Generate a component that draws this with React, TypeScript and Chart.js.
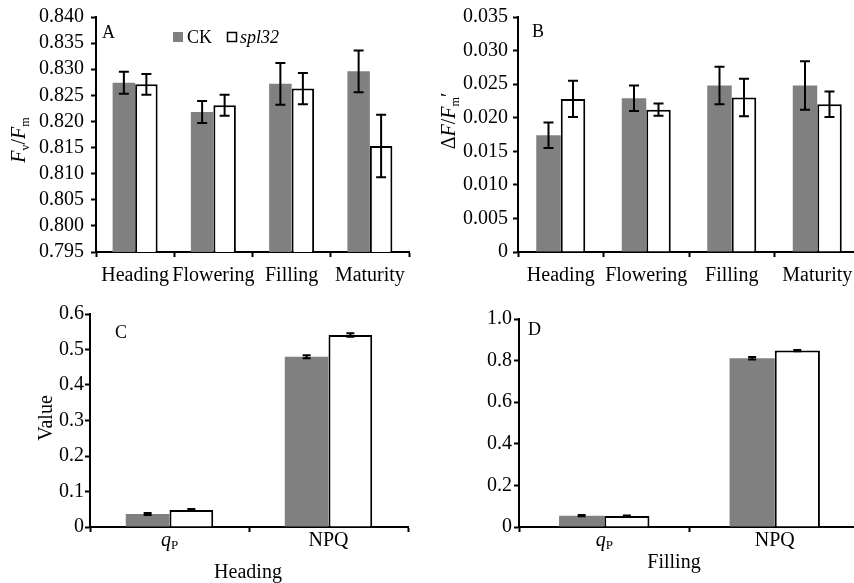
import React, { useEffect, useRef } from 'react';
import { Chart, registerables } from 'chart.js';

Chart.register(...registerables);

// ---------- data ----------
const SERIES = ['CK', 'spl32'];
const STAGES = ['Heading', 'Flowering', 'Filling', 'Maturity'];

const FVFM_CK = [0.8274, 0.8218, 0.8272, 0.8296];
const FVFM_CK_ERR = [0.0021, 0.0021, 0.004, 0.004];
const FVFM_SPL = [0.8271, 0.8231, 0.8263, 0.8153];
const FVFM_SPL_ERR = [0.002, 0.002, 0.003, 0.006];
const TICKS_A = [0.795, 0.8, 0.805, 0.81, 0.815, 0.82, 0.825, 0.83, 0.835, 0.84];
const TICK_LABELS_A = ['0.795', '0.800', '0.805', '0.810', '0.815', '0.820', '0.825', '0.830', '0.835', '0.840'];

const PHI_CK = [0.0174, 0.0229, 0.0248, 0.0248];
const PHI_CK_ERR = [0.0019, 0.0019, 0.0028, 0.0036];
const PHI_SPL = [0.0228, 0.0212, 0.0230, 0.0220];
const PHI_SPL_ERR = [0.0027, 0.0009, 0.0028, 0.0019];
const TICKS_B = [0, 0.005, 0.01, 0.015, 0.02, 0.025, 0.03, 0.035];
const TICK_LABELS_B = ['0', '0.005', '0.010', '0.015', '0.020', '0.025', '0.030', '0.035'];

const PARAMS = ['qP', 'NPQ'];
const HEAD_CK = [0.0366, 0.4797];
const HEAD_CK_ERR = [0.003, 0.004];
const HEAD_SPL = [0.0479, 0.5408];
const HEAD_SPL_ERR = [0.003, 0.005];
const TICKS_C = [0, 0.1, 0.2, 0.3, 0.4, 0.5, 0.6];
const TICK_LABELS_C = ['0', '0.1', '0.2', '0.3', '0.4', '0.5', '0.6'];

const FILL_CK = [0.0545, 0.811];
const FILL_CK_ERR = [0.003, 0.006];
const FILL_SPL = [0.053, 0.848];
const FILL_SPL_ERR = [0.002, 0.003];
const TICKS_D = [0, 0.2, 0.4, 0.6, 0.8, 1.0];
const TICK_LABELS_D = ['0', '0.2', '0.4', '0.6', '0.8', '1.0'];

// ---------- styling ----------
const FAMILY = "'Liberation Serif', 'Times New Roman', Times, serif";
const CK_COLOR = '#808080';
const TICK_SIZE = 20;

function fnt(size: number, italic = false) {
  return `${italic ? 'italic ' : ''}${size}px ${FAMILY}`;
}

type Part = { t: string; italic?: boolean; sub?: boolean };

function drawRich(
  ctx: CanvasRenderingContext2D,
  parts: Part[],
  x: number,
  y: number,
  size: number,
  opts: { align?: 'left' | 'center'; rotate?: boolean; subSize?: number; subDrop?: number } = {}
) {
  const subSize = opts.subSize ?? Math.round(size * 0.65);
  const subDrop = opts.subDrop ?? size * 0.22;
  ctx.save();
  ctx.translate(x, y);
  if (opts.rotate) ctx.rotate(-Math.PI / 2);
  ctx.textBaseline = 'alphabetic';
  ctx.textAlign = 'left';
  ctx.fillStyle = '#000';
  const widths = parts.map((p) => {
    ctx.font = fnt(p.sub ? subSize : size, p.italic);
    return ctx.measureText(p.t).width;
  });
  const total = widths.reduce((a, b) => a + b, 0);
  let cx = opts.align === 'center' ? -total / 2 : 0;
  parts.forEach((p, i) => {
    ctx.font = fnt(p.sub ? subSize : size, p.italic);
    ctx.fillText(p.t, cx, p.sub ? subDrop : 0);
    cx += widths[i];
  });
  ctx.restore();
}

function labelParts(label: string): Part[] {
  if (label === 'qP') return [{ t: 'q', italic: true }, { t: 'P', sub: true }];
  return [{ t: label }];
}

function makeErrPlugin(errors: number[][], cap: number) {
  return {
    id: 'errbars',
    afterDatasetsDraw(chart: any) {
      const ctx = chart.ctx as CanvasRenderingContext2D;
      const y = chart.scales.y;
      ctx.save();
      ctx.strokeStyle = '#000';
      ctx.lineWidth = 2;
      chart.data.datasets.forEach((ds: any, i: number) => {
        const meta = chart.getDatasetMeta(i);
        meta.data.forEach((bar: any, j: number) => {
          const v = ds.data[j];
          const e = errors[i][j];
          const yt = y.getPixelForValue(v + e);
          const yb = y.getPixelForValue(v - e);
          const x = bar.x;
          ctx.beginPath();
          ctx.moveTo(x, yt);
          ctx.lineTo(x, yb);
          ctx.moveTo(x - cap / 2, yt);
          ctx.lineTo(x + cap / 2, yt);
          ctx.moveTo(x - cap / 2, yb);
          ctx.lineTo(x + cap / 2, yb);
          ctx.stroke();
        });
      });
      ctx.restore();
    },
  };
}

type Cfg = {
  labels: string[];
  ck: number[];
  ckErr: number[];
  spl: number[];
  splErr: number[];
  tickValues: number[];
  tickLabels: string[];
  yWidth: number;
  xHeight: number;
  padTop: number;
  padRight: number;
  catPct: number;
  yPad: number;
  xLabels: boolean;
  cap: number;
  decorate: (chart: any) => void;
};

function barConfig(p: Cfg): any {
  const axisGrid = {
    display: true,
    drawOnChartArea: false,
    drawTicks: true,
    tickLength: 5,
    tickColor: '#000',
    tickWidth: 2,
    color: '#000',
  };
  return {
    type: 'bar',
    data: {
      labels: p.labels,
      datasets: [
        {
          label: SERIES[0],
          data: p.ck,
          backgroundColor: CK_COLOR,
          borderWidth: 0,
          categoryPercentage: p.catPct,
          barPercentage: 1,
        },
        {
          label: SERIES[1],
          data: p.spl,
          backgroundColor: '#ffffff',
          borderColor: '#000000',
          borderWidth: 2,
          categoryPercentage: p.catPct,
          barPercentage: 1,
        },
      ],
    },
    options: {
      animation: false,
      responsive: true,
      maintainAspectRatio: false,
      layout: { padding: { top: p.padTop, right: p.padRight, left: 0, bottom: 0 } },
      plugins: { legend: { display: false }, tooltip: { enabled: false } },
      scales: {
        x: {
          type: 'category',
          offset: true,
          grid: { ...axisGrid, offset: true },
          border: { display: true, color: '#000', width: 2 },
          ticks: {
            display: p.xLabels,
            color: '#000',
            font: { family: FAMILY, size: TICK_SIZE },
            padding: 7,
            maxRotation: 0,
            minRotation: 0,
            autoSkip: false,
          },
          afterFit: (s: any) => {
            s.height = p.xHeight;
          },
        },
        y: {
          type: 'linear',
          min: p.tickValues[0],
          max: p.tickValues[p.tickValues.length - 1],
          grid: { ...axisGrid, offset: false },
          border: { display: true, color: '#000', width: 2 },
          ticks: {
            color: '#000',
            font: { family: FAMILY, size: TICK_SIZE, lineHeight: 1 },
            padding: p.yPad,
            autoSkip: false,
            callback: (_v: any, i: number) => p.tickLabels[i],
          },
          afterBuildTicks: (s: any) => {
            s.ticks = p.tickValues.map((v) => ({ value: v }));
          },
          afterFit: (s: any) => {
            s.width = p.yWidth;
          },
        },
      },
    },
    plugins: [
      makeErrPlugin([p.ckErr, p.splErr], p.cap),
      { id: 'deco', afterDraw: (chart: any) => p.decorate(chart) },
    ],
  };
}

function drawLetter(ctx: CanvasRenderingContext2D, letter: string, x: number, y: number) {
  ctx.save();
  ctx.font = fnt(18);
  ctx.fillStyle = '#000';
  ctx.textAlign = 'left';
  ctx.textBaseline = 'alphabetic';
  ctx.fillText(letter, x, y);
  ctx.restore();
}

function drawCategoryLabels(chart: any, baseline: number) {
  const ctx = chart.ctx as CanvasRenderingContext2D;
  const xs = chart.scales.x;
  (chart.data.labels as string[]).forEach((lab, i) => {
    drawRich(ctx, labelParts(lab), xs.getPixelForValue(i), baseline, TICK_SIZE, {
      align: 'center',
      subSize: 13,
      subDrop: 3,
    });
  });
}

const cfgA = (): any =>
  barConfig({
    labels: STAGES,
    ck: FVFM_CK,
    ckErr: FVFM_CK_ERR,
    spl: FVFM_SPL,
    splErr: FVFM_SPL_ERR,
    tickValues: TICKS_A,
    tickLabels: TICK_LABELS_A,
    yWidth: 96,
    xHeight: 43,
    padTop: 17,
    padRight: 11,
    catPct: 0.575,
    yPad: 7,
    xLabels: true,
    cap: 10,
    decorate: (chart) => {
      const ctx = chart.ctx as CanvasRenderingContext2D;
      drawLetter(ctx, 'A', 102, 38);
      // legend
      ctx.save();
      ctx.fillStyle = CK_COLOR;
      ctx.fillRect(173, 32, 10, 10);
      ctx.fillStyle = '#fff';
      ctx.fillRect(227, 32, 10, 10);
      ctx.strokeStyle = '#000';
      ctx.lineWidth = 1.5;
      ctx.strokeRect(227.5, 32.5, 9, 9);
      ctx.restore();
      drawRich(ctx, [{ t: SERIES[0] }], 187, 43, 18);
      drawRich(ctx, [{ t: SERIES[1], italic: true }], 240, 43, 18);
      // y title
      drawRich(
        ctx,
        [{ t: 'F', italic: true }, { t: 'v', sub: true }, { t: '/' }, { t: 'F', italic: true }, { t: 'm', sub: true }],
        25,
        140,
        TICK_SIZE,
        { align: 'center', rotate: true, subSize: 12, subDrop: 4 }
      );
    },
  });

const cfgB = (): any =>
  barConfig({
    labels: STAGES,
    ck: PHI_CK,
    ckErr: PHI_CK_ERR,
    spl: PHI_SPL,
    splErr: PHI_SPL_ERR,
    tickValues: TICKS_B,
    tickLabels: TICK_LABELS_B,
    yWidth: 88,
    xHeight: 43,
    padTop: 17,
    padRight: 0,
    catPct: 0.573,
    yPad: 5,
    xLabels: true,
    cap: 10,
    decorate: (chart) => {
      const ctx = chart.ctx as CanvasRenderingContext2D;
      drawLetter(ctx, 'B', 102, 37);
      drawRich(
        ctx,
        [{ t: '\u0394' }, { t: 'F', italic: true }, { t: '/' }, { t: 'F', italic: true }, { t: 'm', sub: true }, { t: '\u2032' }],
        25,
        121,
        TICK_SIZE,
        { align: 'center', rotate: true, subSize: 12, subDrop: 4 }
      );
    },
  });

const cfgC = (): any =>
  barConfig({
    labels: PARAMS,
    ck: HEAD_CK,
    ckErr: HEAD_CK_ERR,
    spl: HEAD_SPL,
    splErr: HEAD_SPL_ERR,
    tickValues: TICKS_C,
    tickLabels: TICK_LABELS_C,
    yWidth: 90,
    xHeight: 56,
    padTop: 19,
    padRight: 12,
    catPct: 0.55,
    yPad: 1,
    xLabels: false,
    cap: 8,
    decorate: (chart) => {
      const ctx = chart.ctx as CanvasRenderingContext2D;
      drawLetter(ctx, 'C', 115, 43);
      drawRich(ctx, [{ t: 'Value' }], 52, 123, TICK_SIZE, { align: 'center', rotate: true });
      drawCategoryLabels(chart, 251);
      drawRich(ctx, [{ t: STAGES[0] }], 248, 283, TICK_SIZE, { align: 'center' });
    },
  });

const cfgD = (): any =>
  barConfig({
    labels: PARAMS,
    ck: FILL_CK,
    ckErr: FILL_CK_ERR,
    spl: FILL_SPL,
    splErr: FILL_SPL_ERR,
    tickValues: TICKS_D,
    tickLabels: TICK_LABELS_D,
    yWidth: 89,
    xHeight: 56,
    padTop: 24,
    padRight: 0,
    catPct: 0.53,
    yPad: 2,
    xLabels: false,
    cap: 8,
    decorate: (chart) => {
      const ctx = chart.ctx as CanvasRenderingContext2D;
      drawLetter(ctx, 'D', 98, 40);
      drawCategoryLabels(chart, 251);
      drawRich(ctx, [{ t: STAGES[2] }], 244, 273, TICK_SIZE, { align: 'center' });
    },
  });

function Panel(props: { left: number; top: number; width: number; height: number; config: () => any }) {
  const ref = useRef<HTMLCanvasElement | null>(null);
  useEffect(() => {
    if (!ref.current) return;
    const chart = new Chart(ref.current, props.config());
    return () => chart.destroy();
  }, []);
  return (
    <div
      style={{
        position: 'absolute',
        left: props.left,
        top: props.top,
        width: props.width,
        height: props.height,
      }}
    >
      <canvas ref={ref} />
    </div>
  );
}

export default function App() {
  return (
    <div
      style={{
        position: 'fixed',
        left: 0,
        top: 0,
        width: 854,
        height: 583,
        overflow: 'hidden',
        background: '#ffffff',
      }}
    >
      <Panel left={0} top={0} width={420} height={295} config={cfgA} />
      <Panel left={430} top={0} width={430} height={295} config={cfgB} />
      <Panel left={0} top={295} width={420} height={288} config={cfgC} />
      <Panel left={430} top={295} width={430} height={288} config={cfgD} />
    </div>
  );
}
